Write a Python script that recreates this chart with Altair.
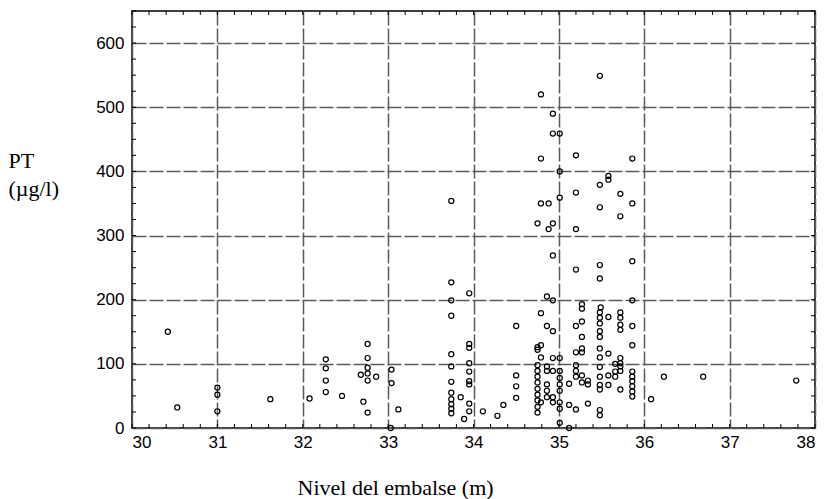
import altair as alt
import pandas as pd

# Reservoir level (m) and total phosphorus (µg/l), one entry per sample
nivel = [
    30.42, 30.53,
    31.0, 31.0, 31.0,
    31.62, 32.08,
    32.27, 32.27, 32.27, 32.27,
    32.46, 32.68, 32.71,
    32.76, 32.76, 32.76, 32.76, 32.76, 32.76,
    32.86, 33.03, 33.04, 33.04, 33.12,
    33.74, 33.74, 33.74, 33.74, 33.74, 33.74, 33.74, 33.74, 33.74, 33.74, 33.74, 33.74,
    33.85, 33.89,
    33.95, 33.95, 33.95, 33.95, 33.95, 33.95, 33.95, 33.95, 33.95,
    34.11, 34.28, 34.35,
    34.50, 34.50, 34.50, 34.50,
    34.75, 34.75, 34.75, 34.75, 34.75, 34.75, 34.75, 34.75, 34.75, 34.75, 34.75, 34.75,
    34.79, 34.79, 34.79, 34.79, 34.79, 34.79, 34.79,
    34.86, 34.86, 34.86, 34.86, 34.86, 34.86, 34.86,
    34.88, 34.88,
    34.93, 34.93, 34.93, 34.93, 34.93, 34.93, 34.93, 34.93, 34.93, 34.93,
    35.01, 35.01, 35.01, 35.01, 35.01, 35.01, 35.01, 35.01, 35.01, 35.01, 35.01,
    35.12, 35.12, 35.12,
    35.20, 35.20, 35.20, 35.20, 35.20, 35.20, 35.20, 35.20, 35.20, 35.20,
    35.27, 35.27, 35.27, 35.27, 35.27, 35.27, 35.27, 35.27,
    35.34, 35.34, 35.34,
    35.48, 35.48, 35.48, 35.48, 35.48, 35.48, 35.48, 35.48, 35.48,
    35.48, 35.48, 35.48, 35.48, 35.48, 35.48, 35.48, 35.48, 35.48,
    35.49,
    35.58, 35.58, 35.58, 35.58, 35.58, 35.58,
    35.66, 35.66, 35.66,
    35.72, 35.72, 35.72, 35.72, 35.72, 35.72, 35.72, 35.72, 35.72, 35.72, 35.72,
    35.86, 35.86, 35.86, 35.86, 35.86, 35.86, 35.86, 35.86, 35.86, 35.86, 35.86, 35.86,
    36.08, 36.23, 36.69, 37.78,
]
pt = [
    150, 32,
    63, 52, 26,
    45, 46,
    107, 93, 74, 56,
    50, 83, 41,
    131, 109, 94, 85, 74, 24,
    80, 0, 91, 70, 29,
    354, 227, 199, 175, 115, 96, 72, 55, 45, 37, 30, 23,
    48, 14,
    210, 131, 125, 101, 88, 73, 68, 38, 26,
    26, 19, 36,
    159, 82, 65, 47,
    319, 126, 122, 98, 89, 80, 71, 61, 52, 43, 33, 24,
    520, 420, 350, 179, 129, 110, 40,
    205, 159, 96, 89, 68, 58, 48,
    350, 310,
    490, 459, 319, 269, 199, 151, 109, 89, 48, 40,
    459, 400, 359, 109, 89, 78, 68, 58, 40, 30, 8,
    69, 36, 0,
    425, 367, 310, 247, 159, 118, 98, 89, 80, 29,
    193, 186, 166, 142, 124, 118, 82, 71,
    74, 68, 38,
    549, 379, 344, 254, 233, 180, 172, 163, 151,
    142, 124, 110, 95, 80, 67, 60, 28, 20,
    188,
    393, 387, 173, 116, 82, 67,
    100, 88, 80,
    365, 330, 180, 172, 161, 153, 109, 101, 96, 89, 60,
    420, 350, 260, 199, 159, 129, 88, 80, 73, 65, 57, 49,
    45, 80, 80, 74,
]

# Axis labels and the small inward ticks on the frame
x_labels = [30, 31, 32, 33, 34, 35, 36, 37, 38]
y_labels = [0, 100, 200, 300, 400, 500, 600]
x_minor = [round(30 + 0.2 * i, 1) for i in range(41)]
y_minor = [25 * i for i in range(27)]

W, H = 683, 417

x_scale = alt.Scale(domain=[30, 38], nice=False, zero=False)
y_scale = alt.Scale(domain=[0, 650], nice=False)

x_axis = alt.Axis(
    values=x_labels,
    title="Nivel del embalse (m)",
    titleX=165,
    titleY=66,
    titleAlign="left",
    titleBaseline="alphabetic",
    labelPadding=6,
)
y_axis = alt.Axis(
    values=y_labels,
    title=["PT", "(µg/l)"],
    titleAngle=0,
    titleX=-124,
    titleY=156,
    titleAlign="left",
    titleBaseline="alphabetic",
    titleLineHeight=28,
    labelPadding=8,
)

samples = pd.DataFrame({"nivel": nivel, "pt": pt})
xt = pd.DataFrame({"nivel": x_minor})
yt = pd.DataFrame({"pt": y_minor})

points = alt.Chart(samples).mark_point(
    shape="circle", filled=False, color="black", size=26, strokeWidth=1.2, opacity=1
).encode(
    x=alt.X("nivel:Q", scale=x_scale, axis=x_axis),
    y=alt.Y("pt:Q", scale=y_scale, axis=y_axis),
)

tick_style = dict(color="black", strokeWidth=1)

bottom_ticks = alt.Chart(xt).mark_rule(**tick_style).encode(
    x=alt.X("nivel:Q", scale=x_scale, axis=x_axis), y=alt.value(H), y2=alt.value(H - 4)
)
top_ticks = alt.Chart(xt).mark_rule(**tick_style).encode(
    x=alt.X("nivel:Q", scale=x_scale, axis=x_axis), y=alt.value(0), y2=alt.value(4)
)
left_ticks = alt.Chart(yt).mark_rule(**tick_style).encode(
    y=alt.Y("pt:Q", scale=y_scale, axis=y_axis), x=alt.value(0), x2=alt.value(4)
)
right_ticks = alt.Chart(yt).mark_rule(**tick_style).encode(
    y=alt.Y("pt:Q", scale=y_scale, axis=y_axis), x=alt.value(W), x2=alt.value(W - 4)
)

chart = (
    alt.layer(points, bottom_ticks, top_ticks, left_ticks, right_ticks)
    .properties(
        width=W,
        height=H,
        autosize=alt.AutoSizeParams(type="none"),
        padding={"left": 132, "top": 11, "right": 10, "bottom": 71},
        background="white",
    )
    .configure_view(stroke="black", strokeWidth=1.5)
    .configure_axis(
        domain=False,
        ticks=False,
        grid=True,
        gridColor="#5a5a5a",
        gridDash=[14, 3],
        gridWidth=1.5,
        gridOpacity=1,
        labelFont="Liberation Sans",
        labelFontSize=17,
        labelColor="black",
        titleFont="Liberation Serif",
        titleFontSize=22,
        titleFontWeight="normal",
        titleColor="black",
    )
)

chart.save("out.html", embed_options={"renderer": "svg", "actions": False})
